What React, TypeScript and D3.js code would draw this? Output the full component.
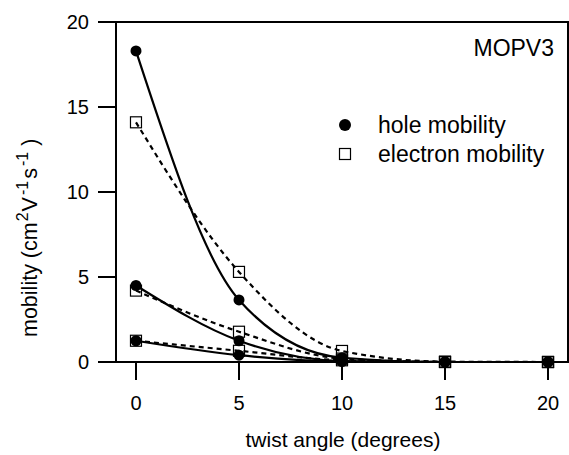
import React from "react";
import * as d3 from "d3";

const angles = [0, 5, 10, 15, 20];
const holeA = [18.3, 3.65, 0.25, 0.0, 0.0];
const holeB = [4.5, 1.25, 0.06, 0.0, 0.0];
const holeC = [1.25, 0.4, 0.03, 0.0, 0.0];
const elecA = [14.1, 5.3, 0.65, 0.02, 0.0];
const elecB = [4.2, 1.78, 0.2, 0.0, 0.0];
const elecC = [1.25, 0.66, 0.1, 0.0, 0.0];
const holeSeries = [holeA, holeB, holeC];
const elecSeries = [elecA, elecB, elecC];
const xTicks = [0, 5, 10, 15, 20];
const yTicks = [0, 5, 10, 15, 20];

export default function App() {
  const W = 569, H = 455;
  const left = 116, right = 568, top = 22, bottom = 362;
  const x = d3.scaleLinear().domain([-0.97, 20.97]).range([left, right]);
  const y = d3.scaleLinear().domain([0, 20]).range([bottom, top]);
  const line = d3
    .line<number>()
    .x((_, i) => x(angles[i]))
    .y((d) => y(d))
    .curve(d3.curveMonotoneX);
  const font = "'Liberation Sans', Arial, Helvetica, sans-serif";
  return (
    <svg
      width={W}
      height={H}
      style={{ position: "absolute", left: 0, top: 0, background: "#fff" }}
      fontFamily={font}
    >
      <rect x={0} y={0} width={W} height={H} fill="#fff" />
      {elecSeries.map((s, k) => (
        <path key={"el" + k} d={line(s) || ""} fill="none" stroke="#000" strokeWidth={2.2} strokeDasharray="5,4" />
      ))}
      {holeSeries.map((s, k) => (
        <path key={"hl" + k} d={line(s) || ""} fill="none" stroke="#000" strokeWidth={2.2} />
      ))}
      {elecSeries.map((s, k) =>
        s.map((v, i) => (
          <rect key={"es" + k + "-" + i} x={x(angles[i]) - 5.5} y={y(v) - 5.5} width={11} height={11} fill="none" stroke="#000" strokeWidth={1.2} />
        ))
      )}
      {holeSeries.map((s, k) =>
        s.map((v, i) => <circle key={"hc" + k + "-" + i} cx={x(angles[i])} cy={y(v)} r={5.5} fill="#000" />)
      )}
      <rect x={left} y={top} width={right - left} height={bottom - top} fill="none" stroke="#000" strokeWidth={2} />
      {yTicks.map((t) => (
        <g key={"yt" + t}>
          <line x1={98} x2={left} y1={y(t)} y2={y(t)} stroke="#000" strokeWidth={2} />
          <text x={89} y={y(t)} dy="0.35em" textAnchor="end" fontSize={20}>
            {t}
          </text>
        </g>
      ))}
      {xTicks.map((t) => (
        <g key={"xt" + t}>
          <line x1={x(t)} x2={x(t)} y1={bottom} y2={380} stroke="#000" strokeWidth={2} />
          <text x={x(t)} y={410} textAnchor="middle" fontSize={20}>
            {t}
          </text>
        </g>
      ))}
      <text x={343} y={447} textAnchor="middle" fontSize={21}>
        twist angle (degrees)
      </text>
      <text transform={`translate(37,337) rotate(-90)`} textAnchor="start" fontSize={21.5}>
        mobility (cm
        <tspan fontSize={16} dx={1} dy={-9}>2</tspan>
        <tspan dx={1} dy={9}>V</tspan>
        <tspan fontSize={16} dx={2} dy={-9}>-1</tspan>
        <tspan dx={2} dy={9}>s</tspan>
        <tspan fontSize={16} dx={2} dy={-9}>-1</tspan>
        <tspan dx={6} dy={9}>)</tspan>
      </text>
      <text x={554} y={56} textAnchor="end" fontSize={23}>
        MOPV3
      </text>
      <circle cx={345} cy={125} r={6} fill="#000" />
      <text x={378} y={133} fontSize={23}>hole mobility</text>
      <rect x={339.5} y={148.5} width={11} height={11} fill="none" stroke="#000" strokeWidth={1.2} />
      <text x={378} y={162} fontSize={23}>electron mobility</text>
    </svg>
  );
}
